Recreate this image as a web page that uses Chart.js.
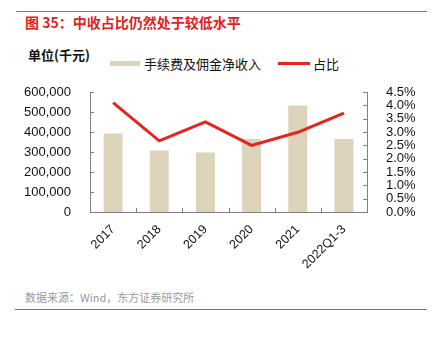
<!DOCTYPE html>
<html>
<head>
<meta charset="utf-8">
<script src="https://cdn.jsdelivr.net/npm/chart.js@4/dist/chart.umd.min.js"></script>
<style>
  body { margin:0; background:#fff; font-family:"Liberation Sans", Arial, "Noto Sans CJK SC", sans-serif; }
  #wrap { position:relative; width:434px; height:339px; overflow:hidden; }
  canvas { position:absolute; left:0; top:0; }
  .rule { position:absolute; height:1px; background:#e8473f; }
  .txt { position:absolute; white-space:nowrap; line-height:1; }
  #title { left:25px; top:15px; font-size:14px; font-weight:bold; color:#e3211c; font-family:"Noto Sans CJK SC", sans-serif; }
  #unit { left:28px; top:48px; font-size:13px; font-weight:bold; color:#111; font-family:"Noto Sans CJK SC", sans-serif; }
  .lg { top:57px; font-size:13px; color:#111; font-family:"Noto Sans CJK SC", sans-serif; }
  #src { left:25px; top:292px; font-size:11px; color:#9a9a9a; font-family:"Noto Sans CJK SC", sans-serif; }
</style>
</head>
<body>
<div id="wrap">
  <div class="rule" style="left:16px;top:11px;width:411px;"></div>
  <div id="title" class="txt">图 35：中收占比仍然处于较低水平</div>
  <div id="unit" class="txt">单位(千元)</div>
  <div style="position:absolute;left:110px;top:61px;width:30px;height:5px;background:#ddd3bb;"></div>
  <div class="txt lg" style="left:144px;">手续费及佣金净收入</div>
  <div style="position:absolute;left:278px;top:62px;width:32px;height:3px;background:#e8231e;"></div>
  <div class="txt lg" style="left:313px;">占比</div>
  <div id="src" class="txt">数据来源：Wind，东方证券研究所</div>
  <div class="rule" style="left:15px;top:309px;width:412px;"></div>
  <canvas id="c" width="434" height="339"></canvas>
</div>
<script>
const categories = ['2017', '2018', '2019', '2020', '2021', '2022Q1-3'];
const feeIncome = [393000, 308000, 298000, 365000, 533000, 365000];
const feeShare = [4.10, 2.67, 3.38, 2.50, 2.99, 3.71];

const axisColor = '#808080';

// small inward tick marks like the original
const tickMarks = {
  id: 'tickMarks',
  afterDraw(chart) {
    const ctx = chart.ctx, a = chart.chartArea;
    ctx.save();
    ctx.strokeStyle = axisColor; ctx.lineWidth = 1;
    ctx.beginPath();
    const x = chart.scales.x, n = categories.length;
    for (let i = 1; i < n; i++) {
      const px = Math.round((x.getPixelForTick(i - 1) + x.getPixelForTick(i)) / 2) + 0.5;
      ctx.moveTo(px, a.bottom); ctx.lineTo(px, a.bottom - 4);
    }
    chart.scales.y.ticks.forEach((t, i) => {
      const py = Math.round(chart.scales.y.getPixelForTick(i)) + 0.5;
      ctx.moveTo(a.left, py); ctx.lineTo(a.left + 4, py);
    });
    chart.scales.y1.ticks.forEach((t, i) => {
      const py = Math.round(chart.scales.y1.getPixelForTick(i)) + 0.5;
      ctx.moveTo(a.right, py); ctx.lineTo(a.right - 4, py);
    });
    ctx.stroke();
    ctx.restore();
  }
};

new Chart(document.getElementById('c'), {
  data: {
    labels: categories,
    datasets: [
      { type:'line', label:'占比', data:feeShare, yAxisID:'y1', borderColor:'#e8231e', borderWidth:3,
        pointRadius:0, tension:0, order:0 },
      { type:'bar', label:'手续费及佣金净收入', data:feeIncome, yAxisID:'y', backgroundColor:'#ddd3bb',
        barPercentage:0.41, categoryPercentage:1, order:1 }
    ]
  },
  options: {
    responsive:false, animation:false,
    layout:{ padding:{ top:92, left:0, right:0, bottom:0 } },
    plugins:{ legend:{ display:false }, tooltip:{ enabled:false } },
    scales: {
      x: {
        grid:{ display:false },
        border:{ display:true, color:axisColor },
        ticks:{ color:'#111', font:{ size:12.5, family:'"Liberation Sans", Arial' }, maxRotation:45, minRotation:45, padding:2, autoSkip:false },
        afterFit(s){ s.height = 127; }
      },
      y: {
        position:'left', min:0, max:600000,
        grid:{ display:false },
        border:{ display:true, color:axisColor },
        ticks:{ stepSize:100000, autoSkip:false, color:'#111', padding:11, font:{ size:13, family:'"Liberation Sans", Arial' },
          callback:v => v.toLocaleString('en-US') },
        afterFit(s){ s.width = 90; }
      },
      y1: {
        position:'right', min:0, max:4.5,
        grid:{ display:false },
        border:{ display:true, color:axisColor },
        ticks:{ stepSize:0.5, autoSkip:false, color:'#111', padding:11, font:{ size:13, family:'"Liberation Sans", Arial' },
          callback:v => v.toFixed(1) + '%' },
        afterFit(s){ s.width = 67; }
      }
    }
  },
  plugins:[tickMarks]
});
</script>
</body>
</html>
